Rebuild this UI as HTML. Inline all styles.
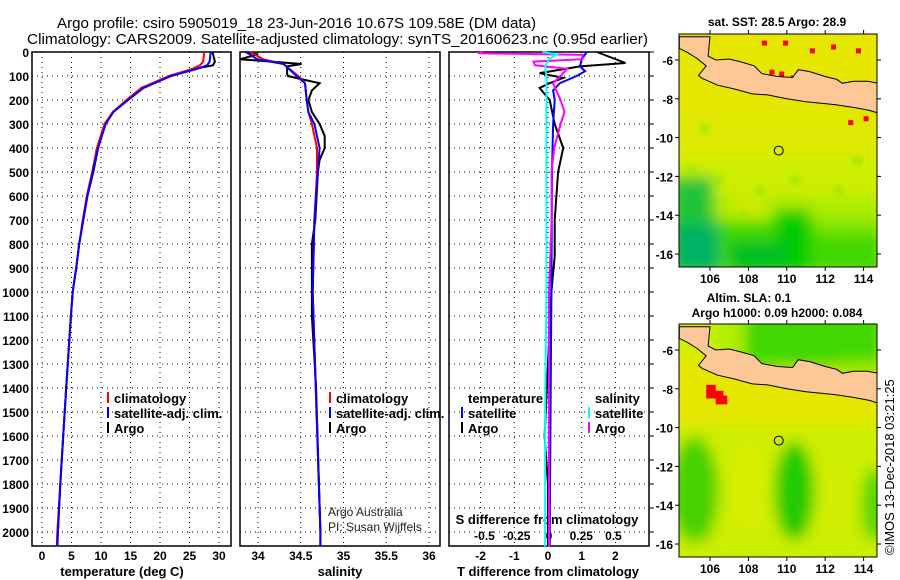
<!DOCTYPE html>
<html><head><meta charset="utf-8"><style>
body{margin:0;background:#fff;width:900px;height:580px;overflow:hidden}
svg{display:block;font-family:"Liberation Sans",sans-serif}
.tk{font-size:12px;font-weight:bold}
.lb{font-size:13px;font-weight:bold}
</style></head><body>
<svg id="c" width="900" height="580" viewBox="0 0 900 580">
<defs>
<filter id="blur" x="-20%" y="-20%" width="140%" height="140%"><feGaussianBlur stdDeviation="7"/></filter>
<filter id="blur2" x="-20%" y="-20%" width="140%" height="140%"><feGaussianBlur stdDeviation="3"/></filter>
</defs>
<text x="57" y="28" font-size="15" textLength="479" lengthAdjust="spacingAndGlyphs">Argo profile: csiro 5905019_18 23-Jun-2016 10.67S 109.58E (DM data)</text>
<text x="27" y="44" font-size="15" textLength="621" lengthAdjust="spacingAndGlyphs">Climatology: CARS2009. Satellite-adjusted climatology: synTS_20160623.nc (0.95d earlier)</text>
<g id="plots"></g>
<g id="maps"></g>
<text transform="translate(894,555) rotate(-90)" font-size="13">©IMOS 13-Dec-2018 03:21:25</text>
</svg>
<script>
// ---- data ----
const depthT = [0,40,55,70,100,150,200,250,300,400,500,600,700,800,900,1000,1100,1400,1600,1800,2000,2060];
const tArgo  = [28.9,29.3,29.0,26.0,21.7,17.0,14.4,12.0,10.7,9.5,8.7,7.7,7.0,6.3,5.8,5.2,4.9,4.1,3.6,3.1,2.7,2.6];
const tClim  = [27.5,27.3,26.8,25.5,21.5,16.8,14.3,12.0,10.6,9.3,8.5,7.6,6.9,6.3,5.8,5.2,4.9,4.1,3.6,3.1,2.6,2.5];
const tSat   = [28.6,28.4,28.0,26.3,21.9,17.2,14.6,12.1,10.8,9.5,8.6,7.7,7.0,6.3,5.8,5.2,4.9,4.1,3.6,3.1,2.7,2.6];
const depthSA = [0,10,30,50,60,90,100,115,130,160,200,250,300,350,400,450,500,700,800,1100,1400,2000,2060];
const sArgo   = [33.85,34.0,33.79,34.51,34.34,34.34,34.35,34.53,34.72,34.63,34.59,34.63,34.72,34.78,34.78,34.72,34.70,34.67,34.63,34.63,34.68,34.73,34.73];
const depthSC = [0,30,50,100,130,200,250,300,400,500,700,1000,2000,2060];
const sClim   = [33.91,34.06,34.30,34.47,34.55,34.57,34.59,34.63,34.69,34.69,34.66,34.64,34.73,34.73];
const sSat    = [33.86,33.99,34.30,34.45,34.55,34.57,34.59,34.66,34.72,34.70,34.66,34.64,34.73,34.73];
const depthDT = [0,46,60,88,108,130,150,200,300,400,500,700,850,1000,1600,1800,2000,2060];
const dTArgo  = [1.45,2.3,0.95,-0.25,0.45,0.05,-0.25,0.05,0.2,0.45,0.3,0.2,0.2,0.1,-0.1,0,0,0];
const depthDB = [0,30,60,80,100,130,160,200,300,500,1000,2000,2060];
const dTSat   = [1.15,1.0,0.95,1.1,0.85,0.35,0.15,0.2,0.15,0.12,0.1,0.05,0.05];
const depthDS = [0,5,12,30,40,55,70,100,130,200,250,300,400,500,700,1000,2000,2060];
const dSArgo  = [-0.51,-0.55,0.26,0.26,-0.12,-0.11,0.14,0.09,0.03,0.09,0.12,0.09,0.04,0.02,0.02,0.0,0.0,0.0];
const depthDC = [0,10,30,60,100,200,1000,1500,2000,2060];
const dSSat   = [-0.05,0.06,0.0,-0.03,-0.02,-0.02,-0.02,-0.03,-0.03,-0.03];
const tTicks = [0,5,10,15,20,25,30];
const sTicks = [34,34.5,35,35.5,36];
const dTTicks = [-2,-1,0,1,2];
const dSTicks = [-0.5,-0.25,0,0.25,0.5];
const depthTicks = [0,100,200,300,400,500,600,700,800,900,1000,1100,1200,1300,1400,1500,1600,1700,1800,1900,2000];
const latTicks = [-6,-8,-10,-12,-14,-16];
const lonTicks = [106,108,110,112,114];

// ---- scales ----
const yD = d => 52 + d*0.24;
const xT = t => 42 + t*5.9;
const xS = s => 258 + (s-34)*85.5;
const xDT = t => 548 + t*33.7;
const xDS = s => 549 + s*129;
const NS='http://www.w3.org/2000/svg';
function mk(tag, attrs, parent){const e=document.createElementNS(NS,tag);for(const k in attrs)e.setAttribute(k,attrs[k]);parent.appendChild(e);return e;}
const P=document.getElementById('plots');
const Y0=52,Y1=546;
const panels=[{x0:32,x1:231,ticks:tTicks,sc:xT,name:'temperature-panel',title:'temperature (deg C)',tx:122},
{x0:240,x1:440,ticks:sTicks,sc:xS,name:'salinity-panel',title:'salinity',tx:340},
{x0:449,x1:649,ticks:dTTicks,sc:xDT,name:'difference-panel',title:'T difference from climatology',tx:548}];
panels.forEach(p=>{
  const g=mk('g',{},P);
  
  
  p.ticks.forEach(v=>{
    const l=mk('line',{x1:p.sc(v),x2:p.sc(v),y1:Y0,y2:Y1,stroke:'#000','stroke-width':1,'stroke-dasharray':'1,4'},g);
    
    
    const t=mk('text',{x:p.sc(v),y:560,'text-anchor':'middle',class:'tk'},g);
    
    
    t.textContent=v;
  });
  depthTicks.forEach(d=>{
    const l=mk('line',{x1:p.x0,x2:p.x1,y1:yD(d),y2:yD(d),stroke:'#000','stroke-width':1,'stroke-dasharray':'1,4'},g);
    
    
  });
  const r=mk('rect',{x:p.x0,y:Y0,width:p.x1-p.x0,height:Y1-Y0,fill:'none',stroke:'#000','stroke-width':1.5},g);
  
  
  const tt=mk('text',{x:p.tx,y:576,'text-anchor':'middle',class:'lb'},g);
  
  
  tt.textContent=p.title;
});
depthTicks.forEach(d=>{
  const t=mk('text',{x:29,y:yD(d)+5,'text-anchor':'end',class:'tk'},P);
  
  
  t.textContent=d;
  const k=mk('line',{x1:649,x2:654,y1:yD(d),y2:yD(d),stroke:'#000'},P);
  
  
});
dSTicks.forEach(v=>{
  const t=mk('text',{x:xDS(v),y:540,'text-anchor':'middle',class:'tk'},P);
  
  
  t.textContent=v;
});
{const t=mk('text',{x:547,y:524,'text-anchor':'middle',class:'lb'},P);


t.textContent='S difference from climatology';}
function line(xs,ds,sc,color,name){
  const pts=xs.map((v,i)=>sc(v).toFixed(1)+','+yD(ds[i]).toFixed(1)).join(' ');
  const l=mk('polyline',{points:pts,fill:'none',stroke:color,'stroke-width':2},P);
  
  
}
line(tArgo,depthT,xT,'#000','temp-argo-line');
line(tClim,depthT,xT,'#f00','temp-climatology-line');
line(tSat,depthT,xT,'#00f','temp-satellite-line');
line(sArgo,depthSA,xS,'#000','sal-argo-line');
line(sClim,depthSC,xS,'#f00','sal-climatology-line');
line(sSat,depthSC,xS,'#00f','sal-satellite-line');
line(dTArgo,depthDT,xDT,'#000','tdiff-argo-line');
line(dTSat,depthDB,xDT,'#00f','tdiff-satellite-line');
line(dSArgo,depthDS,xDS,'#f0f','sdiff-argo-line');
line(dSSat,depthDC,xDS,'#0ff','sdiff-satellite-line');
function leg(x,y,color,text,name){
  const g=mk('g',{},P);
  
  
  if(color) mk('line',{x1:x,x2:x,y1:y-11,y2:y,stroke:color,'stroke-width':2},g);
  const t=mk('text',{x:x+6,y:y,class:'lb'},g);
  t.textContent=text;
}
leg(108,403,'#f00','climatology','legend-entry-climatology');
leg(108,418,'#00f','satellite-adj. clim.','legend-entry-satellite');
leg(108,433,'#000','Argo','legend-entry-argo');
leg(330,403,'#f00','climatology','legend-entry-climatology');
leg(330,418,'#00f','satellite-adj. clim.','legend-entry-satellite');
leg(330,433,'#000','Argo','legend-entry-argo');
leg(462,403,null,'temperature','legend-header-temperature');
leg(462,418,'#00f','satellite','legend-entry-t-satellite');
leg(462,433,'#000','Argo','legend-entry-t-argo');
leg(589,403,null,'salinity','legend-header-salinity');
leg(589,418,'#0ff','satellite','legend-entry-s-satellite');
leg(589,433,'#f0f','Argo','legend-entry-s-argo');
{const t=mk('text',{x:328,y:516,'font-size':12,fill:'#222'},P);t.textContent='Argo Australia';
const t2=mk('text',{x:328,y:531,'font-size':12,fill:'#222'},P);t2.textContent='PI: Susan Wijffels';}

// ---- maps ----
const M=document.getElementById('maps');
const land=[[104.4,-4.8],[106,-4.8],[105.9,-5.8],[106.3,-6.0],[107,-5.95],[107.6,-6.1],[108.3,-6.3],[108.7,-6.7],[109.5,-6.85],[110.3,-6.9],[110.6,-6.5],[111.2,-6.6],[112,-6.85],[112.6,-7.0],[112.9,-7.2],[113.5,-7.1],[114.2,-7.1],[114.8,-7.2],[114.8,-8.75],[114.3,-8.6],[113.5,-8.45],[112.5,-8.3],[111,-8.15],[110,-8.0],[109,-7.8],[108.2,-7.75],[107.3,-7.5],[106.4,-7.3],[105.6,-6.95],[105.4,-6.8],[105.8,-6.3],[105.3,-5.9],[104.8,-5.6],[104.4,-5.4]];
function mapPanel(oy,kind,lbl){
  const x0=679,x1=877,y0=oy,y1=oy+233;
  const lx=lo=>710+(lo-106)*19.2, ly=la=>y0+26+(-6-la)*19.4;
  const g=mk('g',{},M);
  
  
  const cid='clip'+kind;
  const cp=mk('clipPath',{id:cid},g);mk('rect',{x:x0,y:y0,width:x1-x0,height:y1-y0},cp);
  const inner=mk('g',{'clip-path':'url(#'+cid+')'},g);
  mk('rect',{x:x0,y:y0,width:x1-x0,height:y1-y0,fill:'#e6e600'},inner);
  const bl=mk('g',{filter:'url(#blur)'},inner);
  function box(lo0,la0,lo1,la1,col,op){mk('rect',{x:lx(lo0),y:ly(la0),width:lx(lo1)-lx(lo0),height:ly(la1)-ly(la0),fill:col,opacity:op},bl);}
  function ell(lo,la,rx,ry,col,op){mk('ellipse',{cx:lx(lo),cy:ly(la),rx:rx,ry:ry,fill:col,opacity:op},bl);}
  if(kind==='sst'){
    box(104,-8.8,115,-11,'#d4ee00',0.5);
    box(104,-11,115,-13,'#c8f000',0.8);
    box(104,-13,115,-14.3,'#a8ec00',0.9);
    box(104,-14.3,115,-17,'#40d800',1);
    box(104,-12,106.2,-17,'#10c040',0.9);
    box(104,-14.5,106.5,-17,'#00b068',0.9);
    box(109.4,-13.7,111.2,-17,'#00cc00',1);
    box(107,-15.3,110,-17,'#00c020',1);
    box(111.5,-14,115,-15,'#90e800',0.8);
    ell(108,-13.6,18,8,'#dfea00',0.8);
    const cl=mk('g',{filter:'url(#blur2)'},inner);
    [[105.5,-9.3],[104.8,-11.5],[106.3,-12],[107.5,-13.8],[112.5,-12.5],[113.5,-11],[110.2,-12],[108.4,-12.5]].forEach(c=>{
      const r=mk('rect',{x:lx(c[0]),y:ly(c[1]),width:8,height:8,fill:'#90e600',opacity:0.8},cl);
      
      
    });
    [[108.7,-5],[109.8,-5],[111.2,-5.4],[112.3,-5.2],[113.6,-5.4],[109.1,-6.5],[109.6,-6.6],[110.2,-6.8],[113,-7.3],[113.6,-7.6],[113.2,-9.1],[114,-8.9],[114.8,-5.4]].forEach(c=>{
      const r=mk('rect',{x:lx(c[0]),y:ly(c[1]),width:5,height:5,fill:'#f00'},inner);
      
      
    });
  } else {
    box(104,-4,106.4,-6.3,'#d0f000',1);
    box(106.3,-4,107.8,-6.4,'#b0ee00',1);
    box(107.8,-4,115,-6.8,'#40d800',1);
    box(112.5,-6.6,115,-7.6,'#a0ea00',1);
    box(104,-9.8,115,-17,'#c8f000',0.8);
    ell(105.2,-13.3,24,55,'#30cc00',0.85);
    ell(110.4,-13.3,20,50,'#10c800',0.9);
    ell(114.6,-14,14,38,'#40d400',0.85);
    ell(108,-13,14,45,'#dcee00',0.9);
    ell(112.5,-13.5,10,40,'#d4ee00',0.7);
    box(104,-15.7,115,-17,'#c8f000',0.6);
    mk('polygon',{points:[[105.8,-7.8],[106.3,-7.8],[106.3,-8.1],[106.7,-8.1],[106.7,-8.35],[106.9,-8.35],[106.9,-8.8],[106.3,-8.8],[106.3,-8.5],[105.8,-8.5]].map(p=>lx(p[0])+','+ly(p[1])).join(' '),fill:'#f00'},inner);
  }
  const lp=mk('polygon',{points:land.map(p=>lx(p[0]).toFixed(1)+','+ly(p[1]).toFixed(1)).join(' '),fill:'#fdc896',stroke:'#000','stroke-width':1},inner);
  
  
  const ci=mk('circle',{cx:lx(109.58),cy:ly(-10.67),r:4.5,fill:'none',stroke:'#000','stroke-width':1},g);
  
  
  mk('rect',{x:x0,y:y0,width:x1-x0,height:y1-y0,fill:'none',stroke:'#000','stroke-width':1},g);
  latTicks.forEach(la=>{
    mk('line',{x1:x0-4,x2:x0,y1:ly(la),y2:ly(la),stroke:'#000'},g);
    mk('line',{x1:x1,x2:x1+4,y1:ly(la),y2:ly(la),stroke:'#000'},g);
    const t=mk('text',{x:x0-6,y:ly(la)+5,'text-anchor':'end',class:'tk'},g);
    
    
    t.textContent=la;
  });
  lonTicks.forEach(lo=>{
    mk('line',{x1:lx(lo),x2:lx(lo),y1:y0-4,y2:y0,stroke:'#000'},g);
    mk('line',{x1:lx(lo),x2:lx(lo),y1:y1,y2:y1+4,stroke:'#000'},g);
    const t=mk('text',{x:lx(lo),y:y1+16,'text-anchor':'middle',class:'tk'},g);
    
    
    t.textContent=lo;
  });
  lbl.forEach(l=>{
    const t=mk('text',{x:l[0],y:l[1],'text-anchor':'middle',class:'tk'},g);
    
    
    t.textContent=l[2];
  });
}
mapPanel(34,'sst',[[777,26,'sat. SST: 28.5 Argo: 28.9']]);
mapPanel(324,'sla',[[749,302,'Altim. SLA: 0.1'],[777,317,'Argo h1000: 0.09 h2000: 0.084']]);
</script>
</body></html>
